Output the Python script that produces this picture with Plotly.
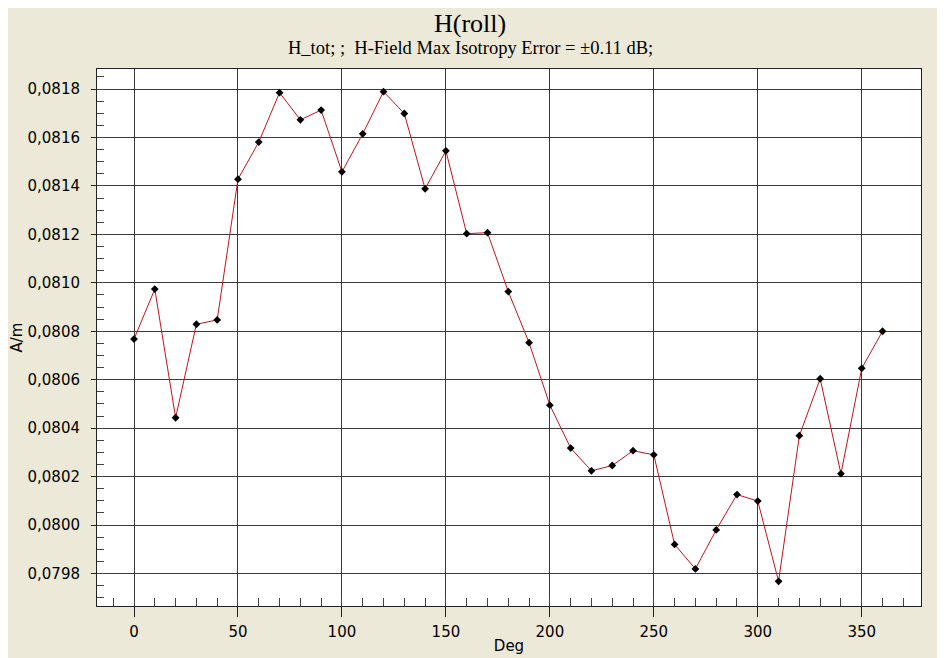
import plotly.graph_objects as go

# angle (deg) and measured field (A/m)
deg = [0, 10, 20, 30, 40, 50, 60, 70, 80, 90, 100, 110, 120, 130, 140, 150, 160, 170, 180,
       190, 200, 210, 220, 230, 240, 250, 260, 270, 280, 290, 300, 310, 320, 330, 340, 350, 360]
h_tot = [0.080768, 0.080974, 0.080443, 0.080829, 0.080847, 0.081428, 0.081581, 0.081785,
         0.081673, 0.081713, 0.081458, 0.081615, 0.081789, 0.081699, 0.081388, 0.081545,
         0.081203, 0.081207, 0.080964, 0.080753, 0.080495, 0.080318, 0.080224, 0.080246,
         0.080307, 0.080290, 0.079920, 0.079819, 0.079980, 0.080126, 0.080099, 0.079768,
         0.080369, 0.080604, 0.080212, 0.080647, 0.080800]

title_txt = "H(roll)"
subtitle_txt = "H_tot; ;  H-Field Max Isotropy Error = \u00b10.11 dB;"

bg = "#ECE9D8"
grid = "#3a3a3a"

# page has an 8px body margin, margins below compensate for it
L, T, R, B = 89, 61, 32, 60
plot_h = 658 - T - B
plot_w = 945 - L - R
cx = (462 - L) / plot_w

fig = go.Figure()
fig.add_trace(go.Scatter(
    x=deg, y=h_tot, mode="lines+markers",
    line=dict(color="#C0141C", width=1),
    marker=dict(symbol="diamond", size=6, color="black"),
    showlegend=False,
))

fig.update_layout(
    width=945, height=658,
    paper_bgcolor=bg, plot_bgcolor="white",
    margin=dict(l=L, r=R, t=T, b=B, autoexpand=False),
    separators=",.",
    font=dict(family="DejaVu Sans", size=15, color="black"),
    annotations=[
        dict(text=title_txt, xref="paper", yref="paper", x=cx, y=1 + (T - 16) / plot_h,
             xanchor="center", yanchor="middle", showarrow=False,
             font=dict(family="Liberation Serif", size=26, color="black")),
        dict(text=subtitle_txt, xref="paper", yref="paper", x=cx, y=1 + (T - 40) / plot_h,
             xanchor="center", yanchor="middle", showarrow=False,
             font=dict(family="Liberation Serif", size=18.5, color="black")),
    ],
)

fig.update_xaxes(
    range=[-17.8, 378.5], dtick=50, tick0=0, automargin=False,
    showgrid=True, gridcolor=grid, gridwidth=1,
    showline=True, linecolor="#222", linewidth=1, mirror=True,
    ticks="outside", ticklen=10, tickcolor="#222", ticklabelstandoff=2,
    minor=dict(dtick=10, tick0=0, ticks="inside", ticklen=8, tickcolor="#444", showgrid=False),
    zeroline=False,
    title=dict(text="Deg", standoff=0, font=dict(size=15)),
)
fig.update_yaxes(
    range=[0.079666, 0.0818826], dtick=0.0002, tick0=0.0798, tickformat=".4f", automargin=False,
    showgrid=True, gridcolor=grid, gridwidth=1,
    showline=True, linecolor="#222", linewidth=1, mirror=True,
    ticks="outside", ticklen=5, tickcolor="#222", ticklabelstandoff=8,
    minor=dict(dtick=0.00005, tick0=0.0798, ticks="inside", ticklen=7, tickcolor="#444", showgrid=False),
    zeroline=False,
    title=dict(text="A/m", standoff=4, font=dict(size=15)),
)

fig.write_html("out.html")
